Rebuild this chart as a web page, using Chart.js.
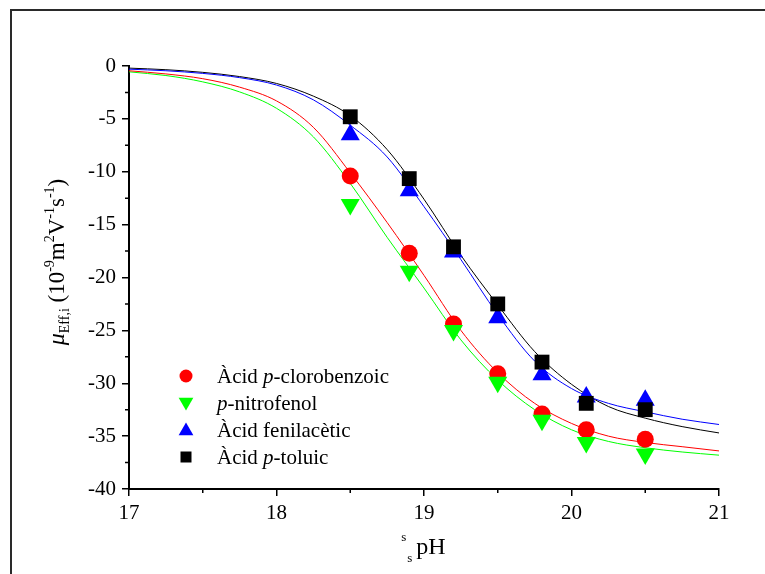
<!DOCTYPE html>
<html lang="ca">
<head>
<meta charset="UTF-8">
<title>Mobilitat efectiva enfront del pH</title>
<script src="https://cdn.jsdelivr.net/npm/chart.js"></script>
<style>
  body { margin: 0; background: #fff; }
  #wrap { width: 765px; height: 574px; }
</style>
</head>
<body>
<div id="wrap"><canvas id="mobilitat"></canvas></div>
<script>
// punts experimentals
const phMesura = [18.5, 18.9, 19.2, 19.5, 19.8, 20.1, 20.5];
const clorobenzoic = [-10.4, -17.7, -24.4, -29.1, -32.9, -34.4, -35.3];
const nitrofenol = [-13.1, -19.4, -25.0, -29.9, -33.5, -35.6, -36.7];
const fenilacetic = [-6.5, -11.8, -17.6, -23.8, -29.2, -31.3, -31.6];
const toluic = [-4.8, -10.65, -17.1, -22.5, -28.0, -31.9, -32.5];

// corbes ajustades
const phAjust = [17, 17.25, 17.5, 17.75, 18, 18.25, 18.5, 18.75, 19, 19.25, 19.5, 19.75, 20, 20.25, 20.5, 20.75, 21];
const ajustClorobenzoic = [-0.45, -0.75, -1.2, -2.0, -3.3, -5.8, -10.1, -14.8, -19.8, -25.0, -29.0, -31.9, -33.8, -35.0, -35.6, -36.0, -36.4];
const ajustNitrofenol = [-0.55, -0.9, -1.5, -2.45, -4.0, -6.7, -11.1, -16.2, -21.0, -25.9, -29.7, -32.5, -34.4, -35.5, -36.1, -36.5, -36.8];
const ajustFenilacetic = [-0.3, -0.45, -0.7, -1.1, -1.8, -3.2, -5.6, -8.6, -13.3, -18.3, -23.5, -27.9, -30.5, -31.9, -32.7, -33.4, -33.9];
const ajustToluic = [-0.2, -0.35, -0.6, -1.0, -1.65, -2.85, -4.7, -7.9, -12.6, -17.9, -22.6, -27.0, -30.1, -32.2, -33.3, -34.1, -34.7];

// marques dels eixos
const xTicks = [17, 18, 19, 20, 21];
const yTicks = [0, -5, -10, -15, -20, -25, -30, -35, -40];
const xMenors = [17.5, 18.5, 19.5, 20.5];
const yMenors = [-2.5, -7.5, -12.5, -17.5, -22.5, -27.5, -32.5, -37.5];

const serif = '"Liberation Serif", "Times New Roman", serif';

const series = [
  { parts: [['Àcid ', 0], ['p', 1], ['-clorobenzoic', 0]], color: '#ff0000', estil: 'circle', rot: 0, radi: 8.5, punts: clorobenzoic, ajust: ajustClorobenzoic },
  { parts: [['p', 1], ['-nitrofenol', 0]], color: '#00ff00', estil: 'triangle', rot: 180, radi: 11, punts: nitrofenol, ajust: ajustNitrofenol },
  { parts: [['Àcid fenilacètic', 0]], color: '#0000ff', estil: 'triangle', rot: 0, radi: 11, punts: fenilacetic, ajust: ajustFenilacetic },
  { parts: [['Àcid ', 0], ['p', 1], ['-toluic', 0]], color: '#000000', estil: 'rect', rot: 0, radi: 10.5, punts: toluic, ajust: ajustToluic }
];

const datasets = [];
series.forEach((s, i) => {
  datasets.push({
    data: phAjust.map((x, k) => ({ x, y: s.ajust[k] })),
    showLine: true, pointRadius: 0, borderWidth: 1, borderColor: s.color,
    cubicInterpolationMode: 'monotone', order: 10
  });
  datasets.push({
    data: phMesura.map((x, k) => ({ x, y: s.punts[k] })),
    showLine: false, pointStyle: s.estil, rotation: s.rot, pointRadius: s.radi,
    backgroundColor: s.color, borderColor: s.color, borderWidth: 0, order: 4 - i
  });
});

// text amb trossos de mida, cursiva i desplaçament diferents
function textRic(ctx, parts, x, y, centrat) {
  const font = p => (p[2] ? 'italic ' : '') + p[1] + 'px ' + serif;
  let w = 0;
  parts.forEach(p => { ctx.font = font(p); w += ctx.measureText(p[0]).width; });
  let cx = centrat ? x - w / 2 : x;
  parts.forEach(p => {
    ctx.font = font(p);
    ctx.fillText(p[0], cx, y + (p[3] || 0));
    cx += ctx.measureText(p[0]).width;
  });
}

function marca(ctx, estil, x, y, r, rot) {
  ctx.beginPath();
  if (estil === 'circle') {
    ctx.arc(x, y, r, 0, Math.PI * 2);
  } else if (estil === 'rect') {
    ctx.rect(x - r, y - r, 2 * r, 2 * r);
  } else {
    const s = rot ? -1 : 1;
    ctx.moveTo(x, y - s * r);
    ctx.lineTo(x + r * 0.866, y + s * r / 2);
    ctx.lineTo(x - r * 0.866, y + s * r / 2);
    ctx.closePath();
  }
  ctx.fill();
}

const decoracio = {
  id: 'decoracio',
  beforeDraw(chart) {
    const ctx = chart.ctx;
    ctx.save();
    ctx.fillStyle = '#fff';
    ctx.fillRect(0, 0, chart.width, chart.height);
    ctx.strokeStyle = '#2a2a2a';
    ctx.lineWidth = 2;
    ctx.beginPath();
    ctx.moveTo(11, chart.height);
    ctx.lineTo(11, 10);
    ctx.lineTo(chart.width, 10);
    ctx.stroke();
    ctx.restore();
  },
  afterDraw(chart) {
    const { ctx, chartArea: a, scales: { x, y } } = chart;
    ctx.save();
    // marques menors
    ctx.strokeStyle = '#000';
    ctx.lineWidth = 1.5;
    ctx.beginPath();
    xMenors.forEach(v => { const px = x.getPixelForValue(v); ctx.moveTo(px, a.bottom); ctx.lineTo(px, a.bottom + 4); });
    yMenors.forEach(v => { const py = y.getPixelForValue(v); ctx.moveTo(a.left, py); ctx.lineTo(a.left - 4, py); });
    ctx.stroke();

    ctx.fillStyle = '#000';
    ctx.textBaseline = 'alphabetic';
    // títol eix x
    const cx = (a.left + a.right) / 2;
    ctx.font = '24px ' + serif;
    const wPH = ctx.measureText('pH').width;
    ctx.fillText('pH', cx - wPH / 2 + 7, 554);
    ctx.font = '13px ' + serif;
    ctx.fillText('s', cx - wPH / 2 - 8, 541);
    ctx.fillText('s', cx - wPH / 2 - 2, 562);

    // títol eix y
    ctx.save();
    ctx.translate(64, 262);
    ctx.rotate(-Math.PI / 2);
    textRic(ctx, [
      ['μ', 24, 1], ['Eff,i', 14, 0, 5], [' (10', 23], ['-9', 14, 0, -10], ['m', 23], ['2', 14, 0, -10],
      ['V', 23], ['-1', 14, 0, -10], ['s', 23], ['-1', 14, 0, -10], [')', 23]
    ], 0, 0, true);
    ctx.restore();

    // llegenda
    ctx.textBaseline = 'middle';
    series.forEach((s, i) => {
      const ly = a.bottom - 113 + i * 27;
      ctx.fillStyle = s.color;
      const r = s.estil === 'circle' ? 6.5 : s.estil === 'rect' ? 5.5 : 8.5;
      marca(ctx, s.estil, a.left + 57, ly + (s.estil === 'triangle' ? (s.rot ? -1 : 1) : 0), r, s.rot);
      ctx.fillStyle = '#000';
      textRic(ctx, s.parts.map(p => [p[0], 21, p[1]]), a.left + 88, ly + 1, false);
    });
    ctx.restore();
  }
};

const eix = (min, max, marques, padding) => ({
  type: 'linear', min, max,
  afterBuildTicks: s => { s.ticks = marques.map(v => ({ value: v })); },
  grid: { drawOnChartArea: false, color: '#000', lineWidth: 1.5, tickLength: 7 },
  border: { color: '#000', width: 2 },
  ticks: { color: '#000', font: { family: serif, size: 21 }, padding }
});

const escalaX = eix(17, 21, xTicks, 5);
escalaX.afterFit = s => { s.height = 85; };
const escalaY = eix(-40, 0, yTicks, 6);
escalaY.afterFit = s => { s.width = 129; };

new Chart(document.getElementById('mobilitat'), {
  type: 'scatter',
  data: { datasets },
  options: {
    responsive: true,
    maintainAspectRatio: false,
    animation: false,
    events: [],
    layout: { padding: { top: 66, right: 46, left: 0, bottom: 0 } },
    plugins: { legend: { display: false }, tooltip: { enabled: false } },
    scales: { x: escalaX, y: escalaY }
  },
  plugins: [decoracio]
});
</script>
</body>
</html>
